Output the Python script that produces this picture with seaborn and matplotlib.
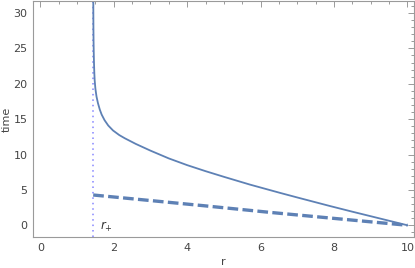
import numpy as np
import pandas as pd
import seaborn as sns
import matplotlib
matplotlib.use("Agg")
import matplotlib.pyplot as plt
from matplotlib.ticker import MultipleLocator

# ---------------------------------------------------------------
# data
# ---------------------------------------------------------------
r_plus = 1.44

r_geo = [1.441, 1.443, 1.446, 1.45, 1.455, 1.46, 1.47, 1.48, 1.50, 1.53,
         1.57, 1.62, 1.67, 1.75, 1.85, 1.98, 2.15, 2.30, 2.60, 3.00,
         3.50, 4.00, 4.50, 5.00, 5.71, 6.53, 7.00, 7.89, 8.50, 9.25, 10.0]
t_geo = [34.0, 31.0, 28.0, 26.0, 24.5, 23.3, 21.6, 20.5, 19.3, 18.2,
         17.25, 16.35, 15.65, 14.85, 14.1, 13.4, 12.75, 12.3, 11.5, 10.55,
         9.45, 8.5, 7.65, 6.85, 5.75, 4.58, 3.93, 2.72, 1.92, 0.96, 0.0]

r_dash = [1.44, 4.44, 6.26, 10.0]
t_dash = [4.28, 2.77, 1.82, 0.0]

x_ticks = [0, 2, 4, 6, 8, 10]
y_ticks = [0, 5, 10, 15, 20, 25, 30]

blue = "#5E81B5"
frame = "#9a9a9a"

sns.set_theme(style="white")
plt.rcParams["font.family"] = ["DejaVu Sans"]

fig = plt.figure(figsize=(4.15, 2.68), dpi=100)
ax = fig.add_axes([33 / 415, (268 - 237.3) / 268, (414 - 33) / 415, 236.3 / 268])

geo = pd.DataFrame({"r": r_geo, "t": t_geo})
dash = pd.DataFrame({"r": r_dash, "t": t_dash})

sns.lineplot(data=geo, x="r", y="t", sort=False, ax=ax, color=blue, lw=1.3)
sns.lineplot(data=dash, x="r", y="t", sort=False, ax=ax, color=blue, lw=2.4,
             linestyle=(0, (3.2, 1.3)))
ax.axvline(r_plus, color="#a0a0ff", lw=1.4, linestyle=(0, (0.8, 2.0)), zorder=1)

ax.text(1.62, -0.3, r"$r_{+}$", fontsize=8.5, color="#333333", va="center")

ax.set_xlim(-0.2, 10.18)
ax.set_ylim(-1.7, 31.7)
ax.set_xticks(x_ticks)
ax.set_yticks(y_ticks)
ax.xaxis.set_minor_locator(MultipleLocator(0.5))
ax.yaxis.set_minor_locator(MultipleLocator(1))

for s in ax.spines.values():
    s.set_color(frame)
    s.set_linewidth(0.8)

ax.tick_params(which="both", direction="in", color=frame, width=0.7,
               top=True, right=True, labelsize=8, labelcolor="#444444", pad=4)
ax.tick_params(which="major", length=4)
ax.tick_params(which="minor", length=2.2)

ax.set_xlabel("r", fontsize=8, color="#444444", labelpad=3)
ax.set_ylabel("time", fontsize=8, color="#444444", labelpad=1)

fig.savefig("out.png", dpi=100)
